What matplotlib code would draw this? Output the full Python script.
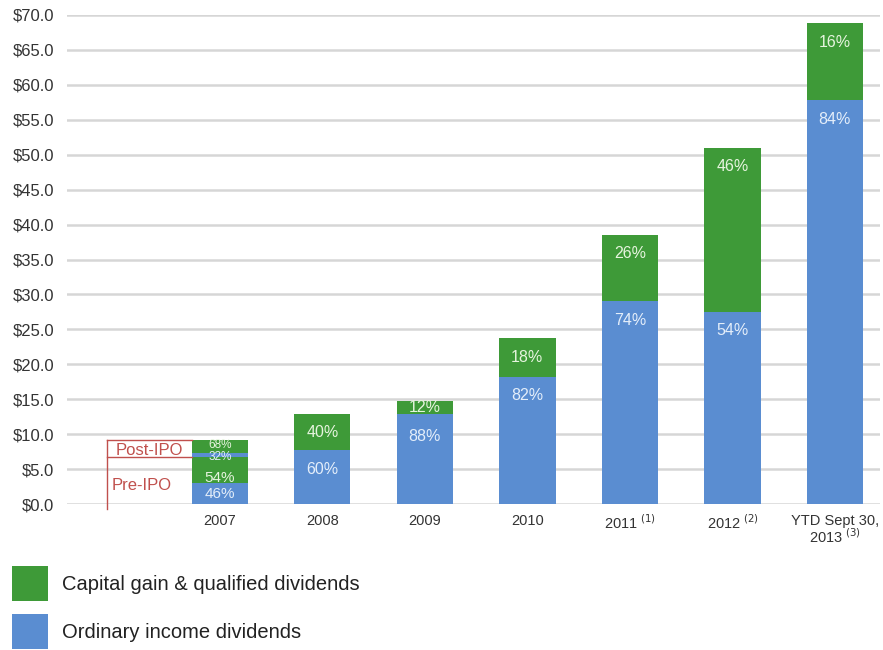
import numpy as np
import matplotlib.pyplot as plt

plt.rcParams['font.family'] = ['Liberation Sans', 'DejaVu Sans']

# data ($ millions)
years = ['2007', r'2008', '2009', '2010', r'2011$^{\ (1)}$', r'2012$^{\ (2)}$',
         'YTD Sept 30,\n' + r'2013$^{\ (3)}$']
ordinary = [3.0, 7.7, 12.9, 18.2, 29.0, 27.5, 57.8]
capital = [3.7, 5.2, 1.8, 5.5, 9.5, 23.5, 11.0]
ord_pct = ['46%', '60%', '88%', '82%', '74%', '54%', '84%']
cap_pct = ['54%', '40%', '12%', '18%', '26%', '46%', '16%']
# post-IPO part of 2007
post_ordinary = 0.6
post_capital = 1.9
post_pct = ['32%', '68%']

green = '#3e9a38'
blue = '#5a8dd1'
red = '#c0504d'

fig = plt.figure(figsize=(8.83, 6.5), dpi=100)
ax = fig.add_axes([67/883, 146/650, 813/883, 489/650])

x = np.arange(len(years))
w = 0.55
b1 = ax.bar(x, ordinary, w, color=blue, zorder=3)
b2 = ax.bar(x, capital, w, bottom=ordinary, color=green, zorder=3)
pre_total = ordinary[0] + capital[0]
ax.bar(0, post_ordinary, w, bottom=pre_total, color=blue, zorder=3)
ax.bar(0, post_capital, w, bottom=pre_total + post_ordinary, color=green, zorder=3)

tcol_g = '#e6f4de'
tcol_b = '#e4eefa'
for i in range(1, len(years)):
    tot = ordinary[i] + capital[i]
    thin = capital[i] < 3
    cy = ordinary[i] + capital[i] / 2 if thin else tot - 2.7
    oy = ordinary[i] - (3.3 if thin else 2.7)
    ax.text(x[i], cy, cap_pct[i], ha='center', va='center', fontsize=11.5, color=tcol_g, zorder=4)
    ax.text(x[i], oy, ord_pct[i], ha='center', va='center', fontsize=11.5, color=tcol_b, zorder=4)
# 2007 labels
ax.text(0, pre_total + post_ordinary + post_capital - 0.75, post_pct[1], ha='center', va='center',
        fontsize=8.5, color=tcol_g, zorder=4)
ax.text(0, pre_total + 0.05, post_pct[0], ha='center', va='center',
        fontsize=8.5, color=tcol_b, zorder=4)
ax.text(0, pre_total - 3.0, cap_pct[0], ha='center', va='center', fontsize=11, color=tcol_g, zorder=4)
ax.text(0, ordinary[0] - 1.6, ord_pct[0], ha='center', va='center', fontsize=11, color=tcol_b, zorder=4)

# Pre-IPO / Post-IPO bracket
top = pre_total + post_ordinary + post_capital
left = -1.1
right = -w / 2
ax.plot([left, left], [top, -0.7], color=red, lw=1, zorder=5, clip_on=False)
ax.plot([left, right], [top, top], color=red, lw=1, zorder=5)
ax.plot([left, right], [pre_total, pre_total], color=red, lw=1, zorder=5)
ax.text((left + right) / 2, (pre_total + top) / 2 - 0.3, 'Post-IPO', ha='center', va='center',
        fontsize=12, color=red)
ax.text((left + right) / 2 - 0.07, pre_total / 2 - 0.7, 'Pre-IPO', ha='center', va='center',
        fontsize=12, color=red)

ax.set_xlim(-1.49, 6.44)
ax.set_ylim(0, 70)
ax.set_yticks(np.arange(0, 71, 5))
ax.set_yticklabels(['$%.1f' % v for v in np.arange(0, 71, 5)], fontsize=12, color='#333333')
ax.set_xticks(x)
ax.set_xticklabels(years, fontsize=10.5, color='#333333', linespacing=0.95)
ax.tick_params(length=0, pad=7)
ax.tick_params(axis='y', pad=9)
ax.yaxis.grid(True, color='#d6d6d6', lw=1.8, zorder=0)
ax.set_axisbelow(True)
for s in ax.spines.values():
    s.set_visible(False)

fig.legend([b2, b1], ['Capital gain & qualified dividends', 'Ordinary income dividends'],
           loc='upper left', bbox_to_anchor=(12/883, 84/650), frameon=False, fontsize=14.5,
           handlelength=1.8, handleheight=2.3, handletextpad=0.7, labelspacing=0.65,
           borderpad=0, borderaxespad=0, labelcolor='#222222')

fig.savefig('out.png', dpi=100)
